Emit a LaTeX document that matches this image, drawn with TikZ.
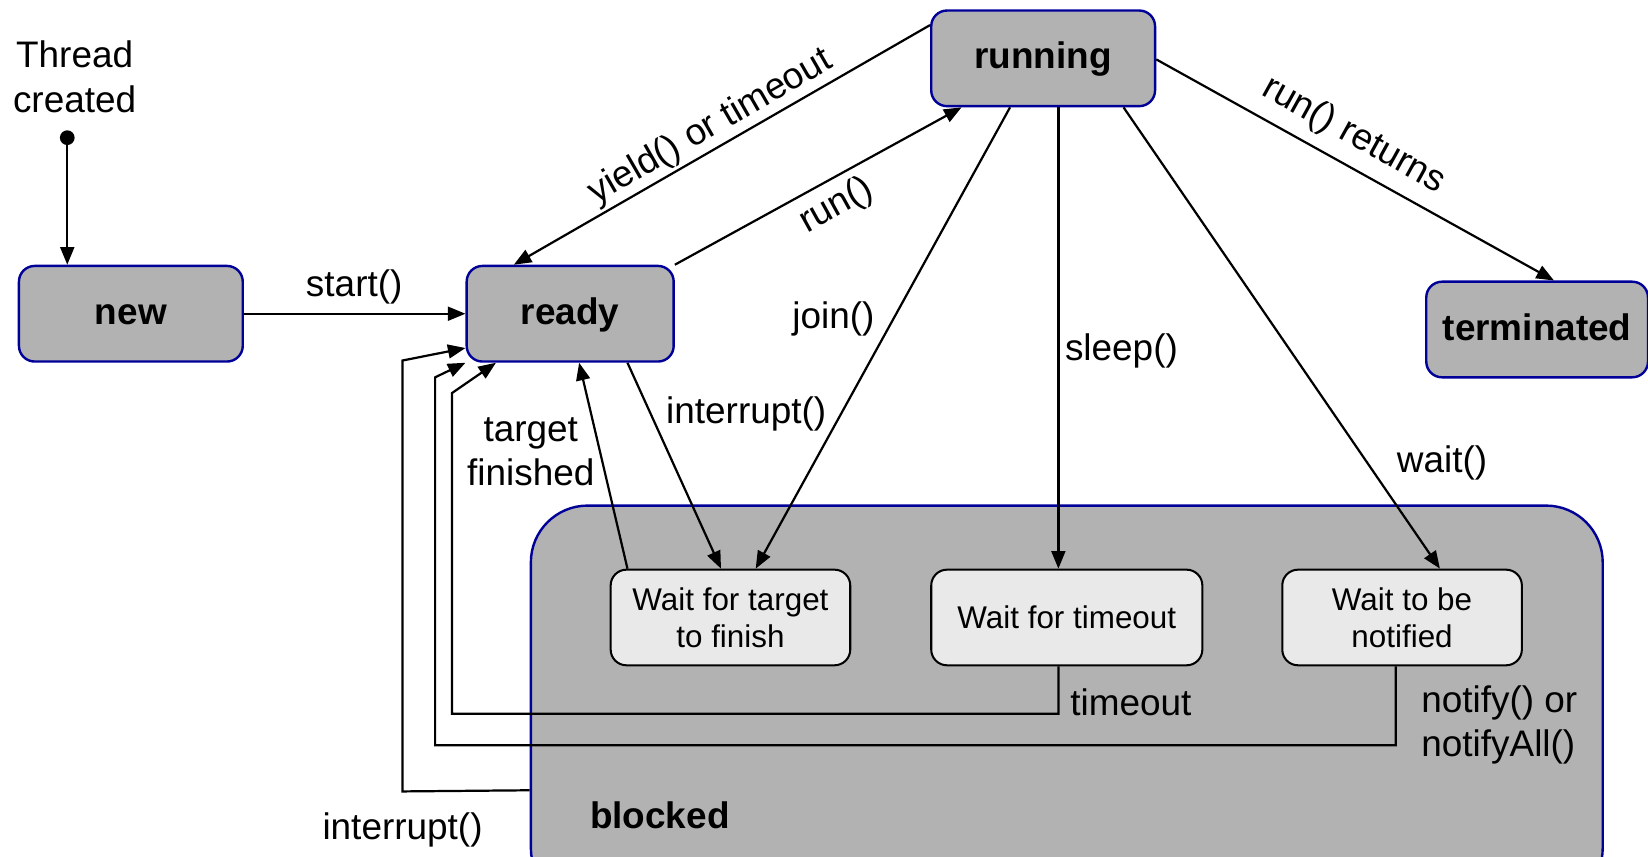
\documentclass[tikz,border=0pt]{standalone}
\usepackage{fontspec}
\setmainfont{Liberation Sans}
\usetikzlibrary{arrows.meta,calc}
\definecolor{stategray}{RGB}{178,178,178}
\definecolor{innergray}{RGB}{233,233,233}
\definecolor{stateblue}{RGB}{0,0,153}
\begin{document}
\begin{tikzpicture}[x=0.02cm,y=-0.02cm,
  state/.style={draw=stateblue, line width=1.3pt, fill=stategray, rounded corners=0.3cm,
    minimum height=1.82cm, inner sep=0pt, text height=0.5cm, text depth=0.1cm,
    font=\fontsize{20}{24}\selectfont\bfseries},
  substate/.style={draw=black, line width=1.1pt, fill=innergray, rounded corners=0.3cm,
    minimum width=4.56cm, minimum height=1.82cm, inner sep=0pt, align=center,
    font=\fontsize{17}{20}\selectfont},
  lbl/.style={font=\fontsize{20}{24}\selectfont, inner sep=0pt, align=center, yshift=-0.06cm},
  conn/.style={line width=1.2pt, -{Triangle[length=9.5pt,width=7.5pt]}},
]
\useasboundingbox (0,0) rectangle (1568,815);
\clip (0,0) rectangle (1568,815);

% blocked container
\node[draw=stateblue, line width=1.3pt, fill=stategray, rounded corners=1.08cm,
  minimum width=20.4cm, minimum height=7.6cm, inner sep=0pt] (blocked) at (1015,671) {};
\node[lbl, font=\fontsize{20}{24}\selectfont\bfseries, anchor=west] (blockedlbl) at (561,773) {blocked};

% states
\node[state, minimum width=4.26cm] (new) at (124.5,298.5) {new};
\node[state, minimum width=3.94cm] (ready) at (542.5,298.5) {ready};
\node[state, minimum width=4.26cm] (running) at (992.5,55.5) {running};
\node[state, minimum width=4.22cm] (terminated) at (1462.5,313.5) {terminated};

\node[substate] (wtarget) at (695,587.5) {Wait for target\\to finish};
\node[substate, minimum width=5.16cm] (wtimeout) at (1015,587.5) {Wait for timeout};
\node[substate] (wnotify) at (1334,587.5) {Wait to be\\notified};

% initial
\node[lbl] (created) at (71,70) {Thread\\created};
\node[circle, fill=black, inner sep=0pt, minimum size=0.28cm] (init) at (64,131) {};
\draw[conn] (init) -- (init |- new.north);

% start
\draw[conn] (new.east) -- (ready.west);
\node[lbl] (startlbl) at (337,270) {start()};

% yield
\draw[conn] ($(running.north west)+(0,15)$) -- ($(ready.north west)+(46,0)$);
\node[lbl, rotate=30] (yieldlbl) at (676,118) {yield() or timeout};

% run
\draw[conn] (ready.north east) -- ($(running.south west)+(30,0)$);
\node[lbl, rotate=29] (runlbl) at (796,193) {run()};

% run returns
\draw[conn] ($(running.east)+(0,1)$) -- ($(terminated.north)+(16,0)$);
\node[lbl, rotate=-29] (returnslbl) at (1288,126) {run() returns};

% join
\draw[conn] ($(running.south)+(-31.5,0)$) -- ($(wtarget.north)+(24,0)$);
\node[lbl] (joinlbl) at (793,300) {join()};

% sleep
\draw[conn] ($(running.south)+(14.5,0)$) coordinate (s1) -- (s1 |- wtimeout.north);
\node[lbl] (sleeplbl) at (1067,331) {sleep()};

% wait
\draw[conn] ($(running.south)+(76.5,0)$) -- ($(wnotify.north)+(36,0)$);
\node[lbl] (waitlbl) at (1372,437) {wait()};

% interrupt ready -> target
\draw[conn] ($(ready.south)+(54.5,0)$) -- ($(wtarget.north)+(-9,0)$);
\node[lbl] (intlbl) at (710,391) {interrupt()};

% target finished
\draw[conn] ($(wtarget.north)+(-98,0)$) -- ($(ready.south)+(8.5,0)$);
\node[lbl] (finlbl) at (505,427) {target\\finished};

% timeout return
\draw[conn] ($(wtimeout.south)+(-8,0)$) coordinate (t1) -- (t1 |- 0,679) -- (430,679) -- (430,374)
  -- ($(ready.south west)+(29,0)$);
\node[lbl, anchor=west] (tolbl) at (1018,665) {timeout};

% notify return
\draw[conn] ($(wnotify.south)+(-6,0)$) coordinate (n1) -- (n1 |- 0,709) -- (414,709) -- (414,359)
  -- ($(ready.south west)+(0,0)$);
\node[lbl, anchor=west, align=left] (notlbl) at (1352,686.5) {notify() or\\notifyAll()};

% interrupt from blocked
\draw[conn] ($(blocked.north west)+(0,272)$) -- (383,753) -- (383,343) -- ($(ready.south west)+(0,-14)$);
\node[lbl] (int2lbl) at (383,787) {interrupt()};
\end{tikzpicture}
\end{document}
